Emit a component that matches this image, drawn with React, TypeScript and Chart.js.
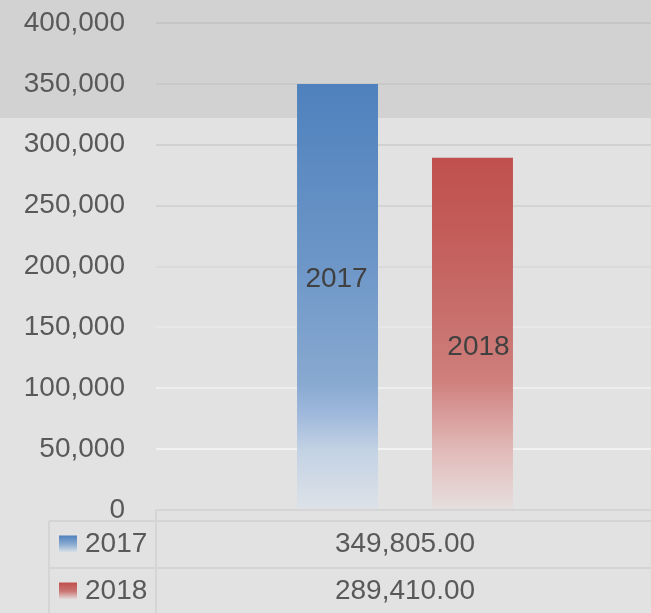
import React, { useEffect, useRef } from "react";
import { Chart, registerables } from "chart.js";

Chart.register(...registerables);

const categories = ["Total"];
const seriesNames = ["2017", "2018"];
const seriesValues = [349805, 289410];
const labelValues = [189700, 133900];
const yTicks = [0, 50000, 100000, 150000, 200000, 250000, 300000, 350000, 400000];

const gridColors: Record<number, string> = {
  400000: "#c6c6c6",
  350000: "#c8c8c8",
  300000: "#d1d1d1",
  250000: "#d4d4d4",
  200000: "#dadada",
  150000: "#e8e8e8",
  100000: "#eeeeee",
  50000: "#f2f2f2",
  0: "rgba(0,0,0,0)",
};

const blueStops: [number, string][] = [
  [0, "#4f81bd"],
  [0.4, "#6b95c7"],
  [0.7, "#88a9d0"],
  [0.77, "#9db7db"],
  [0.86, "#c3d2e4"],
  [1, "#dde2e8"],
];
const redStops: [number, string][] = [
  [0, "#c0504d"],
  [0.26, "#c4605d"],
  [0.49, "#c97370"],
  [0.63, "#cf7f7c"],
  [0.83, "#e1bab8"],
  [1, "#e6dfdf"],
];
const stopsList = [blueStops, redStops];
const FONT = "'Liberation Sans', Arial, sans-serif";

function makeGrad(ctx: CanvasRenderingContext2D, y0: number, y1: number, stops: [number, string][]) {
  const g = ctx.createLinearGradient(0, y0, 0, y1);
  stops.forEach(([o, c]) => g.addColorStop(o, c));
  return g;
}

const bgPlugin = {
  id: "bgPlugin",
  beforeDraw(chart: any) {
    const ctx = chart.ctx;
    ctx.save();
    ctx.fillStyle = "#e2e2e2";
    ctx.fillRect(0, 0, chart.width, chart.height);
    ctx.fillStyle = "#d2d2d2";
    ctx.fillRect(0, 0, chart.width, 118);
    ctx.restore();
  },
};

const labelPlugin = {
  id: "labelPlugin",
  afterDatasetsDraw(chart: any) {
    const ctx = chart.ctx;
    const y = chart.scales.y;
    ctx.save();
    ctx.font = `28px ${FONT}`;
    ctx.fillStyle = "#404040";
    ctx.textAlign = "center";
    ctx.textBaseline = "middle";
    chart.data.datasets.forEach((ds: any, i: number) => {
      const el = chart.getDatasetMeta(i).data[0];
      const dx = i === 1 ? 6 : -1;
      ctx.fillText(ds.label, el.x + dx, y.getPixelForValue(labelValues[i]));
    });
    ctx.restore();
  },
};

const tablePlugin = {
  id: "tablePlugin",
  afterDraw(chart: any) {
    const ctx = chart.ctx;
    const area = chart.chartArea;
    const W = chart.width;
    const H = chart.height;
    const xs = chart.scales.x;
    const left = 49;
    const tableTop = area.bottom + 11;
    const rowH = 47;
    ctx.save();
    ctx.strokeStyle = "#d5d5d5";
    ctx.lineWidth = 2;
    ctx.beginPath();
    ctx.moveTo(area.left, area.bottom);
    ctx.lineTo(W, area.bottom);
    ctx.moveTo(area.left, area.bottom);
    ctx.lineTo(area.left, H);
    ctx.moveTo(left, tableTop);
    ctx.lineTo(W, tableTop);
    ctx.moveTo(left, tableTop);
    ctx.lineTo(left, H);
    for (let i = 1; i < seriesNames.length; i++) {
      ctx.moveTo(left, tableTop + i * rowH);
      ctx.lineTo(W, tableTop + i * rowH);
    }
    ctx.stroke();

    ctx.font = `28px ${FONT}`;
    ctx.fillStyle = "#595959";
    ctx.textBaseline = "middle";
    const cx = xs.getPixelForValue(0);
    seriesNames.forEach((name, i) => {
      const cy = tableTop + i * rowH + rowH / 2;
      const sq = 17;
      ctx.fillStyle = makeGrad(ctx, cy - 9, cy - 9 + sq, [
        [0, stopsList[i][0][1]],
        [0.5, stopsList[i][2][1]],
        [1, stopsList[i][5][1]],
      ]) as any;
      ctx.fillRect(59, cy - 9, 18, sq);
      ctx.fillStyle = "#595959";
      ctx.textAlign = "left";
      ctx.fillText(name, 85, cy);
      ctx.textAlign = "center";
      ctx.fillText(
        seriesValues[i].toLocaleString("en-US", { minimumFractionDigits: 2, maximumFractionDigits: 2 }),
        cx,
        cy
      );
    });
    ctx.restore();
  },
};

export default function App() {
  const ref = useRef<HTMLCanvasElement>(null);
  useEffect(() => {
    if (!ref.current) return;
    Chart.defaults.font.family = FONT;
    const chart = new Chart(ref.current, {
      type: "bar",
      data: {
        labels: categories,
        datasets: seriesNames.map((name, i) => ({
          label: name,
          data: [seriesValues[i]],
          categoryPercentage: 0.542,
          barPercentage: 0.6,
          backgroundColor: (c: any) => {
            const ch = c.chart;
            if (!ch.chartArea) return stopsList[i][0][1];
            const y = ch.scales.y;
            return makeGrad(ch.ctx, y.getPixelForValue(seriesValues[i]), y.getPixelForValue(0), stopsList[i]);
          },
          borderWidth: 0,
        })),
      },
      options: {
        responsive: false,
        devicePixelRatio: 1,
        animation: false,
        layout: { padding: { top: 23, bottom: 103, left: 0, right: 0 } },
        plugins: { legend: { display: false }, tooltip: { enabled: false } },
        scales: {
          x: { display: false },
          y: {
            min: 0,
            max: 400000,
            afterBuildTicks: (s: any) => {
              s.ticks = yTicks.map((v) => ({ value: v }));
            },
            afterFit: (s: any) => {
              s.width = 156;
              s.paddingTop = 0;
              s.paddingBottom = 0;
            },
            border: { display: false },
            grid: {
              drawTicks: false,
              lineWidth: 2,
              color: (c: any) => gridColors[c.tick?.value] ?? "#d8d8d8",
            },
            ticks: {
              padding: 31,
              color: "#595959",
              font: { size: 28, family: FONT },
              callback: (v: any) => Number(v).toLocaleString("en-US"),
            },
          },
        },
      },
      plugins: [bgPlugin, labelPlugin, tablePlugin],
    });
    return () => chart.destroy();
  }, []);
  return (
    <div style={{ position: "fixed", left: 0, top: 0, width: 651, height: 613, overflow: "hidden", background: "#e2e2e2" }}>
      <canvas ref={ref} width={654} height={613} style={{ display: "block" }} />
    </div>
  );
}
